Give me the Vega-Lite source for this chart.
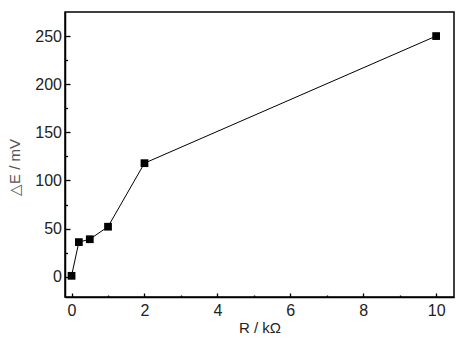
{
  "$schema": "https://vega.github.io/schema/vega-lite/v6.json",
  "autosize": "none",
  "width": 389,
  "height": 285,
  "padding": {"left": 65, "top": 12, "right": 12, "bottom": 49},
  "background": "white",
  "config": {
    "view": {"stroke": "black", "strokeWidth": 1.5},
    "font": "Liberation Sans",
    "axis": {"ticks": true}
  },
  "data": {
    "values": [
      {"R": 0, "dE": 1},
      {"R": 0.2, "dE": 36},
      {"R": 0.5, "dE": 39},
      {"R": 1, "dE": 52},
      {"R": 2, "dE": 118},
      {"R": 10, "dE": 250}
    ]
  },
  "encoding": {
    "x": {
      "field": "R",
      "type": "quantitative",
      "scale": {"domain": [-0.18, 10.49], "nice": false, "zero": false},
      "axis": {
        "values": [0, 1, 2, 3, 4, 5, 6, 7, 8, 9, 10],
        "labelExpr": "datum.value % 2 === 0 ? datum.label : ''",
        "grid": false,
        "domainColor": "black",
        "domainWidth": 1.5,
        "ticks": true,
        "tickColor": "#000000",
        "tickWidth": 1.3,
        "tickSize": {"condition": {"test": "datum.value % 2 === 0", "value": -4}, "value": -2},
        "labelPadding": 9,
        "labelFontSize": 16,
        "labelColor": "#222",
        "title": "R / kΩ",
        "titleFontSize": 15,
        "titleFontWeight": "normal",
        "titleColor": "#222",
        "titlePadding": 2
      }
    },
    "y": {
      "field": "dE",
      "type": "quantitative",
      "scale": {"domain": [-21, 275], "nice": false, "zero": false},
      "axis": {
        "values": [0, 25, 50, 75, 100, 125, 150, 175, 200, 225, 250],
        "labelExpr": "datum.value % 50 === 0 ? datum.label : ''",
        "grid": false,
        "domainColor": "black",
        "domainWidth": 1.5,
        "ticks": true,
        "tickColor": "#000000",
        "tickWidth": 1.3,
        "tickSize": {"condition": {"test": "datum.value % 50 === 0", "value": -5}, "value": -2.5},
        "labelPadding": 8.5,
        "labelFontSize": 16,
        "labelColor": "#222",
        "title": "△E / mV",
        "titleFontSize": 15,
        "titleFontWeight": "normal",
        "titleColor": "#555",
        "titlePadding": 12,
        "titleY": 155
      }
    }
  },
  "layer": [
    {"mark": {"type": "line", "color": "black", "strokeWidth": 1}},
    {"mark": {"type": "square", "color": "black", "opacity": 1, "filled": true, "size": 60}}
  ]
}
